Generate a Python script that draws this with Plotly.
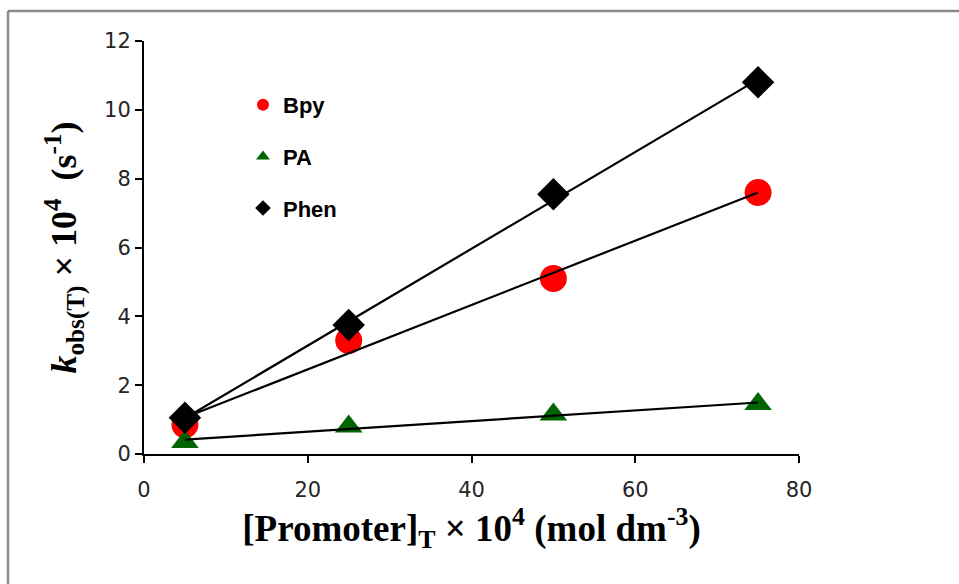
import numpy as np
import plotly.graph_objects as go

x_vals = [5, 25, 50, 75]
bpy = [0.85, 3.3, 5.1, 7.6]
pa = [0.35, 0.8, 1.15, 1.45]
phen = [1.05, 3.75, 7.55, 10.8]
x_ticks = [0, 20, 40, 60, 80]
y_ticks = [0, 2, 4, 6, 8, 10, 12]

W, H = 959, 584
L, R, T, B = 144, 160, 41, 130

fig = go.Figure()

series = [
    ("Bpy", bpy, "circle", "#ff0000", 27),
    ("PA", pa, "triangle-up", "#006400", 24),
    ("Phen", phen, "diamond", "#000000", 25),
]

for name, ys, sym, col, sz in series:
    fig.add_trace(go.Scatter(x=x_vals, y=ys, mode="markers", name="<b>" + name + "</b>",
                             legendgroup=name,
                             marker=dict(symbol=sym, color=col, size=sz, line=dict(width=0))))

# trend lines (least squares)
for name, ys, sym, col, sz in series:
    m, c = np.polyfit(x_vals, ys, 1)
    xs = [x_vals[0], x_vals[-1]]
    fig.add_trace(go.Scatter(x=xs, y=[m * v + c for v in xs], mode="lines",
                             line=dict(color="black", width=2.2), showlegend=False,
                             hoverinfo="skip"))

pw = W - L - R
ph = H - T - B
def px(xp):
    return (xp - L) / pw
def py(yp):
    return (H - B - yp) / ph

tickfont = dict(family="DejaVu Sans, sans-serif", size=21, color="#262626")
titlefont_x = dict(family="Liberation Serif, Times New Roman, serif", size=37, color="black")
titlefont_y = dict(family="Liberation Serif, Times New Roman, serif", size=36, color="black")

fig.update_layout(
    width=W, height=H,
    margin=dict(l=L, r=R, t=T, b=B),
    paper_bgcolor="white", plot_bgcolor="white",
    showlegend=True,
    legend=dict(x=px(243), y=py(84), xanchor="left", yanchor="top",
                font=dict(family="Liberation Sans, Arial, sans-serif", size=22, color="black"),
                itemsizing="constant", tracegroupgap=20, bgcolor="rgba(0,0,0,0)"),
    xaxis=dict(range=[0, 80], tickvals=x_ticks, showgrid=False, zeroline=False,
               showline=True, linecolor="black", linewidth=2,
               ticks="outside", ticklen=7, tickwidth=2, tickcolor="black",
               ticklabelstandoff=9,
               tickfont=tickfont,
               title=dict(text="<b>[Promoter]<sub>T</sub> × 10<sup>4</sup> (mol dm<sup>-3</sup>)</b>",
                          font=titlefont_x, standoff=12)),
    yaxis=dict(range=[0, 12], tickvals=y_ticks, showgrid=False, zeroline=False,
               showline=True, linecolor="black", linewidth=2,
               ticks="outside", ticklen=7, tickwidth=2, tickcolor="black",
               ticklabelstandoff=0,
               tickfont=tickfont,
               title=dict(text="<b><i>k</i><sub>obs(T)</sub> × 10<sup>4</sup>  (s<sup>-1</sup>)</b>",
                          font=titlefont_y, standoff=16)),
    shapes=[
        dict(type="line", xref="paper", yref="paper", x0=px(8), x1=px(970), y0=py(11), y1=py(11),
             line=dict(color="#8a8a8a", width=2.5)),
        dict(type="line", xref="paper", yref="paper", x0=px(8), x1=px(8), y0=py(11), y1=py(600),
             line=dict(color="#8a8a8a", width=2.5)),
    ],
)

fig.write_html("out.html")
